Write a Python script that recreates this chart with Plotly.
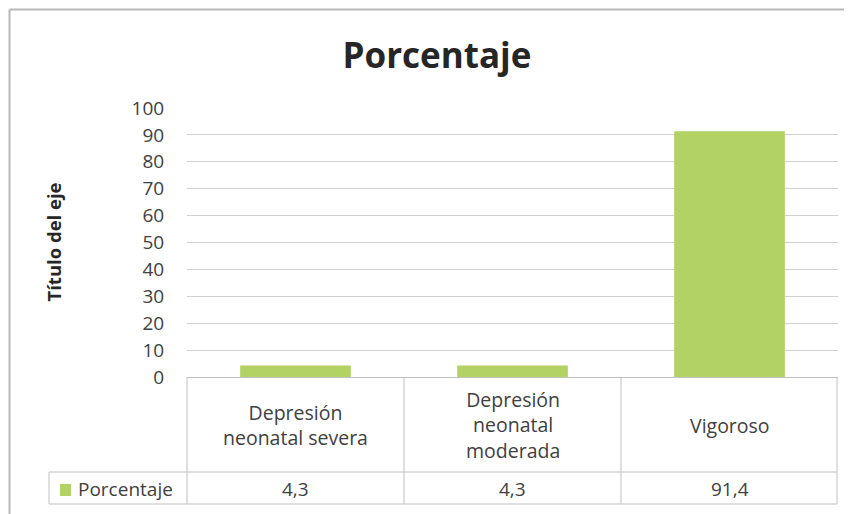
import plotly.graph_objects as go

categories = ["Depresión neonatal severa", "Depresión neonatal moderada", "Vigoroso"]
category_labels = ["Depresión<br>neonatal severa", "Depresión<br>neonatal<br>moderada", "Vigoroso"]
values = [4.3, 4.3, 91.4]
series_name = "Porcentaje"
y_ticks = list(range(0, 101, 10))

# page body has an 8px margin, so the figure starts at screen (8, 8)
OFF = 8
W, H = 852 - OFF, 514 - OFF
PL, PR, PT, PB = 187, 838, 108, 377          # plot area in screen pixels
L, T = PL - OFF, PT - OFF
R, B = W - (PR - OFF), H - (PB - OFF)
PW, PH = PR - PL, PB - PT
FONT = "'Open Sans', Lato, sans-serif"
TXT = "#404040"
GRID = "#d0d0d0"
GREEN = "#b2d263"

def px(x):
    return (x - PL) / PW

def py(y):
    return (PB - y) / PH

fig = go.Figure()
fig.add_trace(go.Bar(
    x=categories, y=values, name=series_name,
    marker=dict(color=GREEN, line=dict(width=0)),
    width=0.51, showlegend=False, hoverinfo="x+y",
))

shapes = []
line = dict(color="#c0c0c0", width=1)
border = dict(color="#b8b8b8", width=2)
# outer chart border (left and top edges; the rest is outside the picture)
shapes.append(dict(type="line", xref="paper", yref="paper",
                   x0=px(9.5), x1=px(9.5), y0=py(9.5), y1=py(514), line=border))
shapes.append(dict(type="line", xref="paper", yref="paper",
                   x0=px(9.5), x1=px(852), y0=py(9.5), y1=py(9.5), line=border))
# data-table grid
col_edges = [187, 404, 621, 837]
for xe in col_edges:
    shapes.append(dict(type="line", xref="paper", yref="paper",
                       x0=px(xe), x1=px(xe), y0=py(377), y1=py(504), line=line))
shapes.append(dict(type="line", xref="paper", yref="paper",
                   x0=px(49), x1=px(49), y0=py(472), y1=py(504), line=line))
for ye in [472, 504]:
    shapes.append(dict(type="line", xref="paper", yref="paper",
                       x0=px(49), x1=px(837), y0=py(ye), y1=py(ye), line=line))
# legend key square
shapes.append(dict(type="rect", xref="paper", yref="paper",
                   x0=px(60), x1=px(71), y0=py(496), y1=py(484),
                   fillcolor=GREEN, line=dict(width=0)))

annotations = []
for cat, lab, v in zip(categories, category_labels, values):
    annotations.append(dict(x=cat, xref="x", y=py(425), yref="paper",
                            text=lab, showarrow=False,
                            font=dict(family=FONT, size=19.5, color=TXT),
                            xanchor="center", yanchor="middle"))
    annotations.append(dict(x=cat, xref="x", y=py(489), yref="paper",
                            text=f"{v:.1f}".replace(".", ","), showarrow=False,
                            font=dict(family=FONT, size=19, color=TXT),
                            xanchor="center", yanchor="middle"))
annotations.append(dict(x=px(76), xref="paper", y=py(489), yref="paper",
                        text=series_name, showarrow=False,
                        font=dict(family=FONT, size=19, color=TXT),
                        xanchor="left", yanchor="middle"))
annotations.append(dict(x=px(53), xref="paper", y=0.5, yref="paper",
                        text="<b>Título del eje</b>", showarrow=False, textangle=-90,
                        font=dict(family=FONT, size=18.5, color="#262626"),
                        xanchor="center", yanchor="middle"))

fig.update_layout(
    width=W, height=H,
    margin=dict(l=L, r=R, t=T, b=B, autoexpand=False),
    paper_bgcolor="white", plot_bgcolor="white",
    title=dict(text="<b>Porcentaje</b>", x=(437 - OFF) / W, xanchor="center",
               y=1 - (56 - OFF) / H, yanchor="middle",
               font=dict(family=FONT, size=35, color="#262626")),
    xaxis=dict(showticklabels=False, showgrid=False, zeroline=False,
               showline=True, linecolor="#c0c0c0", linewidth=1,
               range=[-0.5, 2.5]),
    yaxis=dict(range=[0, 100], tickvals=y_ticks, showgrid=True, gridcolor=GRID,
               gridwidth=1, zeroline=False, showline=False,
               ticks="outside", ticklen=18, tickcolor="rgba(0,0,0,0)",
               tickfont=dict(family=FONT, size=19, color=TXT)),
    shapes=shapes, annotations=annotations,
)

fig.write_html("out.html")
